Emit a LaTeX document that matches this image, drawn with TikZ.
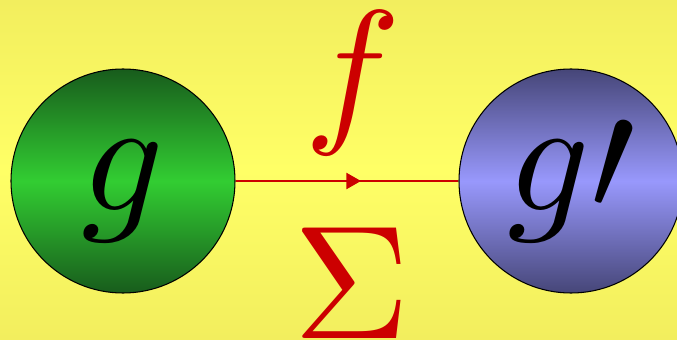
\documentclass[tikz,border=0pt]{standalone}
\usetikzlibrary{arrows.meta,decorations.markings}
\definecolor{bgedge}{RGB}{242,238,94}
\definecolor{bgmid}{RGB}{255,255,102}
\definecolor{gdark}{RGB}{24,92,28}
\definecolor{glight}{RGB}{50,205,50}
\definecolor{bdark}{RGB}{70,70,120}
\definecolor{blight}{RGB}{152,152,252}
\definecolor{arrred}{RGB}{204,0,0}
\newcommand{\bigmath}[1]{\scalebox{9.2}{$#1$}}

\begin{document}
\begin{tikzpicture}[
    big/.style={inner sep=0pt},
    ball/.style={circle, draw=black, line width=0.6pt, minimum size=4.48cm, big,
        text height=1.8cm, text depth=0.62cm},
    midarrow/.style={draw=arrred, line width=1.2pt, postaction={decorate},
        decoration={markings, mark=at position 0.5625 with
            {\arrow[arrred]{Triangle[length=0.29cm,width=0.32cm]}}}}]
    \useasboundingbox (-6.94,-3.16) rectangle (6.60,3.62);
    \shade[top color=bgedge, bottom color=bgedge, middle color=bgmid]
        (-6.94,-3.16) rectangle (6.60,3.62);
    \node[ball, top color=gdark, bottom color=gdark, middle color=glight] (g) at (-4.48,0) {\bigmath{g}};
    \node[ball, top color=bdark, bottom color=bdark, middle color=blight] (gp) at (4.48,0) {\bigmath{g\prime}};
    \draw[midarrow] (g) -- (gp);
    \node[big, text=arrred] (f) at (0.12,1.95) {\bigmath{f}};
    \node[big, text=arrred] (sigma) at (0.1,-2.04) {\bigmath{\Sigma}};
\end{tikzpicture}
\end{document}
